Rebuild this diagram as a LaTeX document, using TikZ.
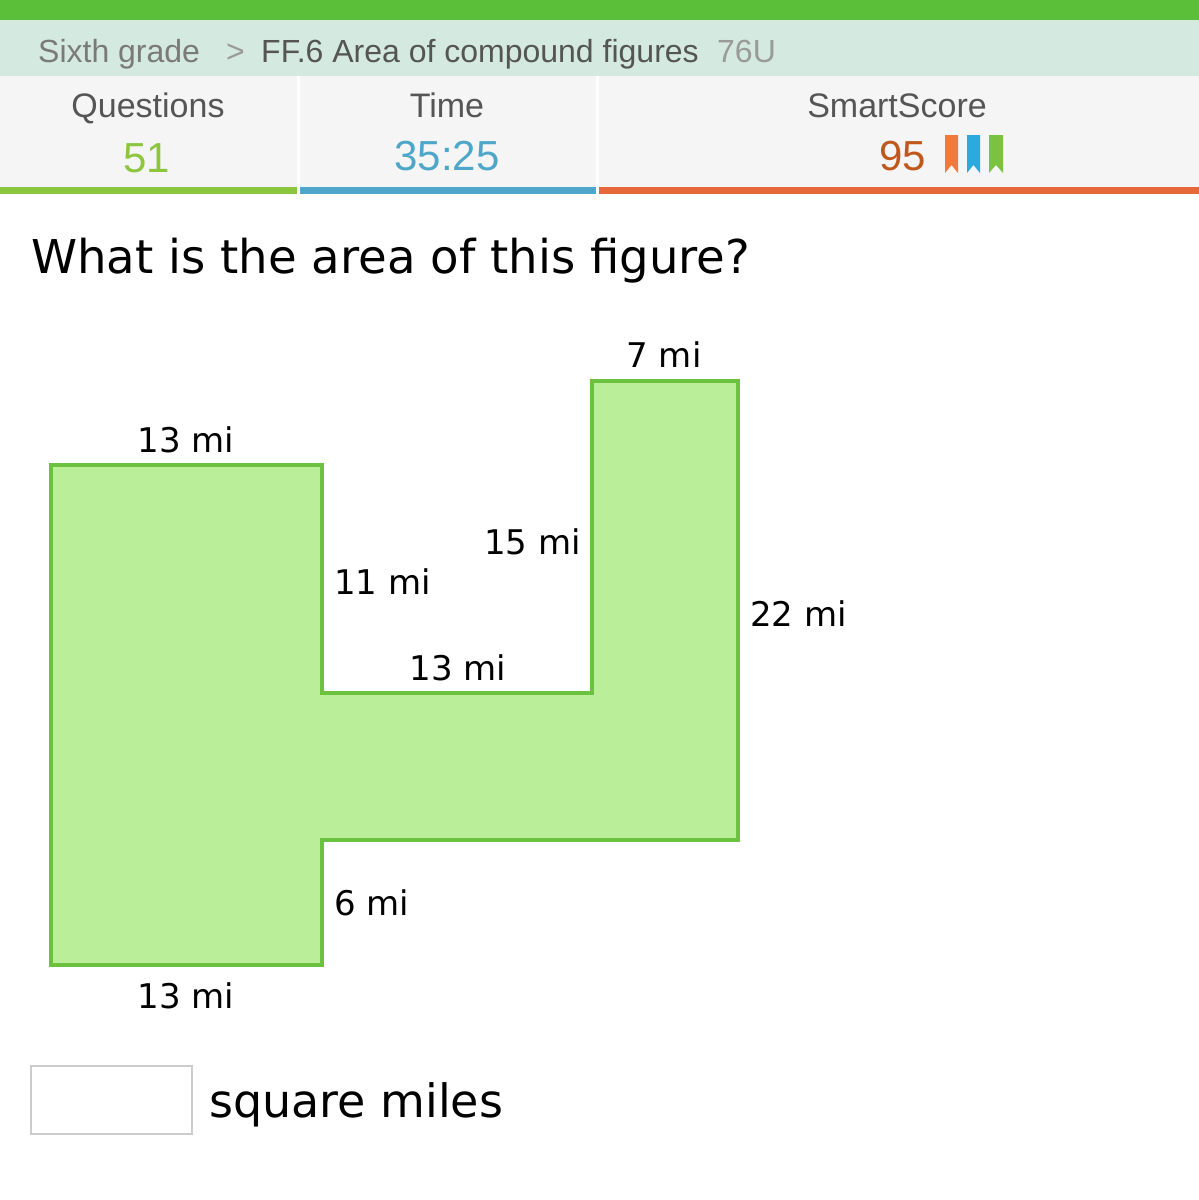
\documentclass[tikz,border=0pt]{standalone}
\usepackage{fontspec}
\newfontfamily\hdr{Liberation Sans}
\newfontfamily\dv{DejaVu Sans}
\definecolor{topgreen}{HTML}{5BBF3A}
\definecolor{crumbbg}{HTML}{D4E9E0}
\definecolor{statbg}{HTML}{F5F5F5}
\definecolor{qgreen}{HTML}{8CC63F}
\definecolor{tblue}{HTML}{4EA7C8}
\definecolor{sorange}{HTML}{E5673A}
\definecolor{scoreclr}{HTML}{C0581B}
\definecolor{bmorange}{HTML}{F07A3C}
\definecolor{bmblue}{HTML}{2BAAE0}
\definecolor{bmgreen}{HTML}{7CC242}
\definecolor{shapeline}{HTML}{6CC13F}
\definecolor{shapefill}{HTML}{BBEE98}
\definecolor{gray1}{HTML}{7A7A7A}
\definecolor{gray2}{HTML}{555555}
\definecolor{gray3}{HTML}{9A9A9A}
\definecolor{boxgray}{HTML}{CCCCCC}
\tikzset{
  lbl/.style={inner sep=0pt, anchor=base, font=\dv\fontsize{34}{40}\selectfont},
  lblw/.style={lbl, anchor=base west},
  lble/.style={lbl, anchor=base east},
  hdrtxt/.style={inner sep=0pt, anchor=base, font=\hdr\fontsize{32}{38}\selectfont},
  stattxt/.style={inner sep=0pt, anchor=base, font=\hdr\fontsize{34}{40}\selectfont},
  bignum/.style={inner sep=0pt, anchor=base, font=\hdr\fontsize{42}{48}\selectfont},
}
\begin{document}
\begin{tikzpicture}[x=1pt,y=-1pt]
\useasboundingbox (0,0) rectangle (1199,1200);
\fill[white] (0,0) rectangle (1199,1200);
% header bars
\fill[topgreen] (0,0) rectangle (1199,20);
\fill[crumbbg] (0,20) rectangle (1199,76);
\fill[statbg] (0,76) rectangle (1199,187);
\fill[white] (297,76) rectangle (300,187);
\fill[white] (596,76) rectangle (599,187);
\fill[qgreen] (0,187) rectangle (297,194);
\fill[tblue] (300,187) rectangle (596,194);
\fill[sorange] (599,187) rectangle (1199,194);
% breadcrumb
\node[hdrtxt, anchor=base west, text=gray1] (crumb1) at (38,62) {Sixth grade};
\node[hdrtxt, anchor=base west, text=gray3] (crumbsep) at (226,62) {>};
\node[hdrtxt, anchor=base west, text=gray2] (crumb2) at (261,62) {FF.6 Area of compound figures};
\node[hdrtxt, anchor=base west, text=gray3] (crumb3) at (717,62) {76U};
% stats
\node[stattxt, text=gray2] (qlabel) at (148,117) {Questions};
\node[bignum, text=qgreen] (qnum) at (147,172) {51};
\node[stattxt, text=gray2] (tlabel) at (447,117) {Time};
\node[bignum, text=tblue] (tnum) at (447,170) {35:25};
\node[stattxt, text=gray2] (slabel) at (897,117) {SmartScore};
\node[bignum, text=scoreclr, anchor=base east] (snum) at (926,170) {95};
\fill[bmorange] (945,135) -- (958,135) -- (958,173) -- (951.5,165) -- (945,173) -- cycle;
\fill[bmblue] (967,135) -- (980,135) -- (980,173) -- (973.5,165) -- (967,173) -- cycle;
\fill[bmgreen] (989,135) -- (1003,135) -- (1003,173) -- (996,165) -- (989,173) -- cycle;
% question
\node[inner sep=0pt, anchor=base west, font=\dv\fontsize{46.6}{54}\selectfont] (question) at (31,273) {What is the area of this figure?};
% figure
\draw[shapeline, fill=shapefill, line width=4pt, line join=miter]
  (51,465) -- (322,465) -- (322,693) -- (592,693) -- (592,381) -- (738,381)
  -- (738,840) -- (322,840) -- (322,965) -- (51,965) -- cycle;
\node[lbl] (l7) at (664,367) {7 mi};
\node[lbl] (l13top) at (186,452) {13 mi};
\node[lblw] (l11) at (334,594) {11 mi};
\node[lble] (l15) at (581,554) {15 mi};
\node[lblw] (l22) at (750,626) {22 mi};
\node[lbl] (l13mid) at (458,680) {13 mi};
\node[lblw] (l6) at (334,915) {6 mi};
\node[lbl] (l13bot) at (186,1008) {13 mi};
% answer
\draw[boxgray, line width=2.5pt, fill=white] (31,1066) rectangle (192,1134);
\node[inner sep=0pt, anchor=base west, font=\dv\fontsize{46}{54}\selectfont] (units) at (209,1117) {square miles};
\end{tikzpicture}
\end{document}
